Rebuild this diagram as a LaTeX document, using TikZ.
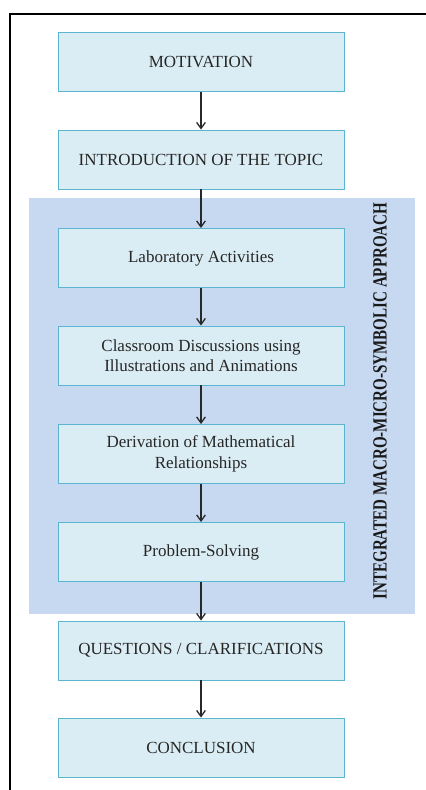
\documentclass[tikz,border=0pt]{standalone}
\usepackage{fontspec}
\setmainfont{Liberation Serif}
\usepackage{tikz}
\usetikzlibrary{
    arrows.meta,
    positioning
}
\definecolor{stepfill}{RGB}{219,237,244}
\definecolor{stepline}{RGB}{92,181,206}
\definecolor{panelblue}{RGB}{198,217,241}
\definecolor{arrowgray}{RGB}{40,40,40}
\tikzset{
    stepbox/.style={
        draw=stepline,
        fill=stepfill,
        line width=0.8pt,
        minimum width=8.58cm,
        minimum height=1.77cm,
        align=center,
        text=black!85,
        font=\fontsize{14.5}{17.5}\selectfont,
    },
    flow/.style={
        arrowgray,
        line width=1.1pt,
        -{Straight Barb[length=1.8mm,width=2.6mm]},
    },
}

\begin{document}
\begin{tikzpicture}[x=0.03cm, y=-0.03cm]
    \useasboundingbox (0,0) rectangle (426,790);

    %% Frame
    \draw[black, line width=1.6pt] (10,790) -- (10,14) -- (426,14);

    %% Integrated approach panel
    \fill[panelblue] (29,198) rectangle (415,614);
    \node[rotate=90, text=black!90] (approach) at (380,401)
        {\resizebox{11.9cm}{0.4cm}{\bfseries INTEGRATED MACRO-MICRO-SYMBOLIC APPROACH}};

    %% Steps
    \node[stepbox] (motivation) at (201,62) {MOTIVATION};
    \node[stepbox] (intro) at (201,159.5) {INTRODUCTION OF THE TOPIC};
    \node[stepbox] (lab) at (201,258) {Laboratory Activities};
    \node[stepbox] (discuss) at (201,355.5) {Classroom Discussions using\\Illustrations and Animations};
    \node[stepbox] (derive) at (201,454) {Derivation of Mathematical\\Relationships};
    \node[stepbox] (solve) at (201,552) {Problem-Solving};
    \node[stepbox] (questions) at (201,650.5) {QUESTIONS / CLARIFICATIONS};
    \node[stepbox] (conclusion) at (201,747.5) {CONCLUSION};

    %% Arrows
    \draw[flow] (motivation) -- (intro);
    \draw[flow] (intro) -- (lab);
    \draw[flow] (lab) -- (discuss);
    \draw[flow] (discuss) -- (derive);
    \draw[flow] (derive) -- (solve);
    \draw[flow] (solve) -- (questions);
    \draw[flow] (questions) -- (conclusion);
\end{tikzpicture}
\end{document}
